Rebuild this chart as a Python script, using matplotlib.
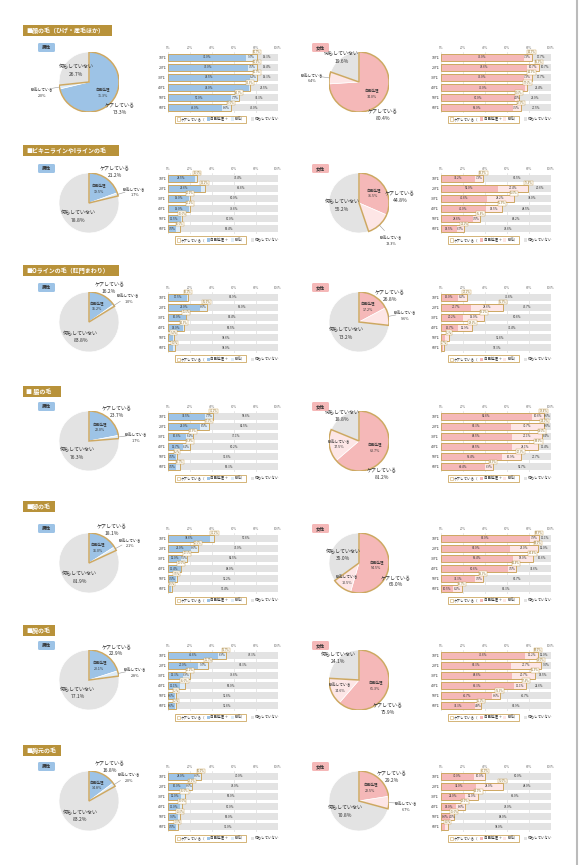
import numpy as np
import matplotlib
matplotlib.use('Agg')
import matplotlib.pyplot as plt
from matplotlib.patches import Rectangle, Wedge, FancyBboxPatch
from matplotlib.lines import Line2D

plt.rcParams['font.family'] = ['Noto Sans CJK JP', 'DejaVu Sans']

titles = ['■顔の毛（ひげ・産毛ほか）', '■ビキニラインやIラインの毛', '■Oラインの毛（肛門まわり）',
          '■ 脇の毛', '■脚の毛', '■腕の毛', '■胸元の毛']
ages = ['10代', '20代', '30代', '40代', '50代', '60代']

# pie: care total and self-care share (%)
m_care = [73.3, 21.2, 16.2, 23.7, 18.1, 22.9, 16.8]
m_self = [71.3, 19.5, 15.2, 22.0, 16.0, 20.1, 14.8]
f_care = [80.4, 44.8, 26.8, 81.2, 65.0, 75.9, 29.2]
f_self = [74.0, 31.5, 17.2, 63.7, 54.5, 61.3, 22.5]

# bars by age: self-care and care total (%)
m_bar_self = [[71.0, 73.0, 74.5, 74.0, 57.0, 49.0],
              [24.5, 29.6, 19.0, 19.0, 11.5, 7.0],
              [17.5, 29.0, 16.0, 14.0, 4.8, 4.8],
              [33.5, 29.0, 16.8, 13.7, 7.6, 7.6],
              [38.6, 21.0, 12.0, 11.4, 7.5, 3.0],
              [45.8, 27.0, 13.3, 11.1, 6.6, 6.6],
              [24.0, 16.0, 12.0, 11.0, 9.0, 7.0]]
m_bar_care = [[80.7, 80.6, 80.7, 74.5, 64.7, 57.0],
              [26.6, 33.2, 20.0, 20.2, 13.0, 10.6],
              [18.1, 35.0, 16.6, 14.5, 5.4, 6.0],
              [41.2, 37.5, 22.9, 19.8, 8.2, 10.7],
              [42.2, 27.0, 17.5, 12.0, 7.8, 3.6],
              [52.7, 36.7, 20.2, 15.0, 7.2, 7.2],
              [30.0, 22.0, 15.0, 13.0, 11.0, 9.0]]
f_bar_self = [[75.0, 78.6, 75.0, 76.0, 67.0, 65.0],
              [31.2, 52.0, 41.8, 41.0, 28.8, 14.5],
              [15.0, 27.7, 20.2, 15.7, 3.6, 1.5],
              [82.8, 63.3, 64.5, 64.5, 55.4, 40.4],
              [81.0, 63.0, 65.4, 60.8, 31.3, 10.5],
              [76.8, 63.3, 64.8, 66.3, 46.7, 31.3],
              [30.0, 32.0, 22.0, 14.0, 8.0, 4.0]]
f_bar_care = [[82.3, 89.3, 82.3, 78.6, 71.0, 72.5],
              [38.5, 79.4, 66.0, 55.5, 35.8, 21.2],
              [23.2, 56.3, 39.2, 28.6, 7.2, 2.7],
              [93.4, 94.0, 91.6, 88.6, 72.3, 47.3],
              [88.9, 88.0, 83.4, 68.4, 38.3, 18.7],
              [88.0, 91.0, 85.5, 77.4, 53.3, 36.1],
              [40.0, 56.0, 34.0, 22.0, 12.0, 6.0]]

header_y = [25, 145, 265, 386, 501, 625, 745]
center_y = [82, 203, 322, 441, 563, 680, 801]

gold = '#B8923A'
gold_line = '#CDA862'
gray = '#E3E3E3'
blue, blue_l = '#9DC3E6', '#DDEBF7'
pink, pink_l = '#F5B8B8', '#FDE6E6'
txt = '#333333'

W, H = 587, 865
R = 30

fig = plt.figure(figsize=(W / 100, H / 100), dpi=100)
fig.patch.set_facecolor('white')
renderer = fig.canvas.get_renderer()


def px(x, y, w, h):
    return [x / W, 1 - (y + h) / H, w / W, h / H]


def fx(x):
    return x / W


def fy(y):
    return 1 - y / H


def rect(x, y, w, h, **kw):
    p = Rectangle((fx(x), fy(y + h)), w / W, h / H, transform=fig.transFigure, **kw)
    fig.add_artist(p)
    return p


def tag(x, y, label, color):
    p = FancyBboxPatch((fx(x), fy(y + 9)), 17 / W, 9 / H, boxstyle='round,pad=0,rounding_size=0.002',
                       transform=fig.transFigure, fc=color, ec='none')
    fig.add_artist(p)
    fig.text(fx(x + 8.5), fy(y + 4.5), label, fontsize=3.3, ha='center', va='center',
             color=txt, weight='bold')


def draw_pie(cx, cy, care, selfv, c_self, c_rem):
    ax = fig.add_axes(px(cx - R, cy - R, 2 * R, 2 * R))
    rem = care - selfv
    nothing = 100 - care
    ax.pie([selfv, rem, nothing], colors=[c_self, c_rem, gray], startangle=90,
           counterclock=False, radius=1, wedgeprops=dict(edgecolor='white', linewidth=0.5))
    ax.add_patch(Wedge((0, 0), 1, 90 - 3.6 * care, 90, fill=False, edgecolor=gold_line, lw=1.1))
    ax.set_xlim(-1, 1)
    ax.set_ylim(-1, 1)
    ax.set_aspect('equal')
    ax.axis('off')

    a = np.radians(90 - 1.8 * selfv)
    ax.text(0.58 * np.cos(a), 0.58 * np.sin(a), f'自己処理\n{selfv:.1f}%', fontsize=2.6,
            ha='center', va='center', color=txt, linespacing=1.5)

    a = np.radians(90 - 1.8 * care)
    ax.text(1.38 * np.cos(a), 1.32 * np.sin(a), f'ケアしている\n{care:.1f}%', fontsize=3.6,
            ha='center', va='center', color=txt, linespacing=1.6)

    a = np.radians(90 - 3.6 * (selfv + rem / 2))
    if rem >= 10 and selfv >= 50:
        ax.text(0.68 * np.cos(a), 0.68 * np.sin(a), f'脱毛している\n{rem:.1f}%', fontsize=2.7,
                ha='center', va='center', color=txt, linespacing=1.5)
    else:
        ax.plot([1.0 * np.cos(a), 1.25 * np.cos(a)], [1.0 * np.sin(a), 1.25 * np.sin(a)],
                color='#999999', lw=0.4, clip_on=False)
        ax.text(1.58 * np.cos(a), 1.58 * np.sin(a) - 0.1, f'脱毛している\n{rem:.1f}%', fontsize=2.7,
                ha='center', va='center', color=txt, linespacing=1.5)

    a = np.radians(90 - 3.6 * (care + nothing / 2))
    r = 1.0 if nothing < 25 else 0.58
    ax.text(r * np.cos(a), r * np.sin(a), f'何もしていない\n{nothing:.1f}%', fontsize=3.6,
            ha='center', va='center', color=txt, linespacing=1.6)


def draw_bars(L, cy, selfs, cares, c_self, c_rem):
    ax = fig.add_axes(px(L, cy - 30, 110, 61))
    y = np.arange(len(ages))
    selfs = np.array(selfs)
    cares = np.array(cares)
    h = 0.68
    ax.barh(y, selfs, height=h, color=c_self, zorder=2)
    ax.barh(y, cares - selfs, left=selfs, height=h, color=c_rem, zorder=2)
    ax.barh(y, 100 - cares, left=cares, height=h, color=gray, zorder=2)
    for i in range(len(ages)):
        ax.add_patch(Rectangle((0, i - h / 2), cares[i], h, fill=False, ec=gold_line, lw=0.7, zorder=3))
        s, c = selfs[i], cares[i]
        if s >= 5:
            ax.text(s / 2, i, f'{s:.1f}%', fontsize=2.1, ha='center', va='center', color=txt, zorder=4)
        if c - s >= 4:
            ax.text((s + c) / 2, i, f'{c - s:.1f}%', fontsize=2.1, ha='center', va='center', color=txt, zorder=4)
        ax.text((c + 100) / 2, i, f'{100 - c:.1f}%', fontsize=2.1, ha='center', va='center', color=txt, zorder=4)
        ax.text(c, i - 0.5, f'{c:.1f}%', fontsize=1.9, ha='center', va='center', color='#9A7A35', zorder=5,
                bbox=dict(boxstyle='square,pad=0.12', fc='white', ec=gold_line, lw=0.35))
    ax.set_xlim(0, 100)
    ax.set_ylim(len(ages) - 0.5, -0.5)
    ax.xaxis.tick_top()
    ax.set_xticks(range(0, 101, 20))
    ax.set_xticklabels([f'{v}%' for v in range(0, 101, 20)], fontsize=2.2, color='#777777')
    ax.set_yticks(y)
    ax.set_yticklabels(ages, fontsize=2.6, color=txt)
    ax.tick_params(length=0, pad=1.5)
    ax.grid(axis='x', color='#D5D5D5', lw=0.4, zorder=0)
    ax.set_axisbelow(True)
    for sp in ax.spines.values():
        sp.set_visible(False)

    # legend
    fs = 2.5
    ly = cy + 37
    x = L + 9
    start = x - 2
    items = [('white', gold_line, 'ケアしている（'), (c_self, 'none', '自己処理 ＋ '), (c_rem, 'none', '脱毛）')]
    for fc, ec, label in items:
        rect(x, ly - 1.5, 3, 3, fc=fc, ec=ec, lw=0.4)
        x += 4
        t = fig.text(fx(x), fy(ly), label, fontsize=fs, va='center', color=txt)
        x += t.get_window_extent(renderer).width + 1
    rect(start, ly - 3.5, x - start, 7, fill=False, ec=gold_line, lw=0.6)
    x += 5
    rect(x, ly - 1.5, 3, 3, fc=gray, ec='none')
    fig.text(fx(x + 4), fy(ly), '何もしていない', fontsize=fs, va='center', color=txt)


for k in range(len(titles)):
    y0 = header_y[k]
    c = center_y[k]
    hw = len(titles[k]) * 6.4 + 6
    rect(23, y0, hw, 11, fc=gold, ec='none')
    fig.text(fx(26), fy(y0 + 5.5), titles[k], fontsize=4.3, color='white', va='center', weight='bold')

    tag(38, c - 39, '男性', blue)
    draw_pie(89, c, m_care[k], m_self[k], blue, blue_l)
    draw_bars(168, c, m_bar_self[k], m_bar_care[k], blue, blue_l)

    tag(312, c - 39, '女性', pink)
    draw_pie(359, c, f_care[k], f_self[k], pink, pink_l)
    draw_bars(441, c, f_bar_self[k], f_bar_care[k], pink, pink_l)

fig.add_artist(Line2D([fx(577), fx(577)], [0, 1], color='#BBBBBB', lw=1.5, transform=fig.transFigure))

fig.savefig('out.png', dpi=100)
